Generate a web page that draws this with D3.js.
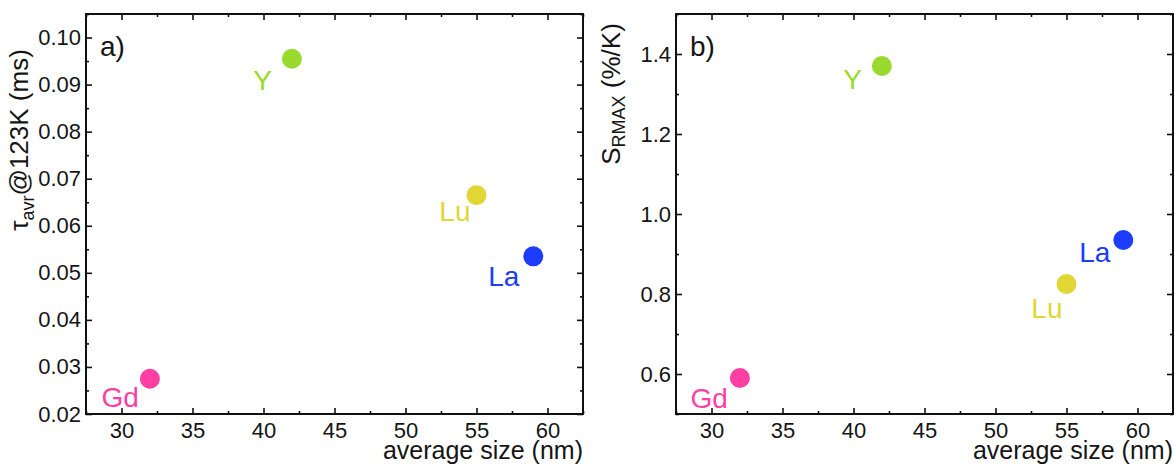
<!DOCTYPE html>
<html lang="en">
<head>
  <meta charset="utf-8">
  <title>Average size vs. lifetime and sensitivity</title>
  <script src="https://cdn.jsdelivr.net/npm/d3@7"></script>
  <style>
    body { margin: 0; background: #fff; }
    svg text { font-family: "Liberation Sans", Arial, sans-serif; fill: #151515; }
  </style>
</head>
<body>
  <div class="chart"></div>
  <script>
    // values
    var ions = ["Gd", "Y", "Lu", "La"];
    var sizes = [32, 42, 55, 59];
    var tauAvr = [0.0275, 0.0955, 0.0665, 0.0535];
    var sRmax = [0.59, 1.37, 0.825, 0.935];
    var ionColors = ["#ff3fa4", "#9ada2e", "#e2d634", "#1c3cff"];

    var xTicks = [30, 35, 40, 45, 50, 55, 60];
    var tauTicks = [0.02, 0.03, 0.04, 0.05, 0.06, 0.07, 0.08, 0.09, 0.10];
    var sTicks = [0.6, 0.8, 1.0, 1.2, 1.4];

    var W = 1174, H = 465;
    var svg = d3.select(".chart").append("svg")
      .attr("width", W).attr("height", H);

    var panels = [
      {
        left: 86, tag: "a)", y: tauAvr, yDomain: [0.02, 0.105], yTicks: tauTicks,
        yMinorStep: 0.005, fmt: d3.format(".2f"),
        // label offsets (text end, baseline) from each dot
        lab: [[-11, 28], [-20, 31], [-6, 26], [-14, 30]]
      },
      {
        left: 676, tag: "b)", y: sRmax, yDomain: [0.5, 1.5], yTicks: sTicks,
        yMinorStep: 0.1, fmt: d3.format(".1f"),
        lab: [[-12, 30], [-20, 23], [-4, 34], [-13, 22]]
      }
    ];

    var marginTop = 14, pw = 497, ph = 400;

    panels.forEach(function(p, pi) {
      var g = svg.append("g").attr("transform", "translate(" + p.left + "," + marginTop + ")");

      var x = d3.scaleLinear().domain([27.5, 62.5]).range([0, pw]);
      var y = d3.scaleLinear().domain(p.yDomain).range([ph, 0]);

      var xMinor = d3.range(27.5, 62.6, 2.5).filter(function(v) { return v % 5 != 0; });
      var yMinor = d3.range(p.yDomain[0], p.yDomain[1] + 1e-9, p.yMinorStep)
        .map(function(v) { return +v.toFixed(4); })
        .filter(function(v) {
          return !p.yTicks.some(function(t) { return Math.abs(t - v) < 1e-6; });
        });

      function ticks(axis, vals, size, fmt) {
        return axis.tickValues(vals).tickSize(-size).tickFormat(fmt || "");
      }

      // major + minor ticks on all four sides, pointing inward
      var sides = [
        [d3.axisBottom(x), "translate(0," + ph + ")", xTicks, xMinor, d3.format("d"), 8],
        [d3.axisTop(x), "translate(0,0)", xTicks, xMinor, null, 6],
        [d3.axisLeft(y), "translate(0,0)", p.yTicks, yMinor, p.fmt, 5],
        [d3.axisRight(y), "translate(" + pw + ",0)", p.yTicks, yMinor, null, 6]
      ];
      sides.forEach(function(s) {
        var major = g.append("g").attr("transform", s[1])
          .call(ticks(s[0], s[2], 6, s[4]).tickPadding(s[5]));
        var minor = g.append("g").attr("transform", s[1])
          .call(ticks(s[0].tickPadding(0), s[3], 3, null));
        major.select(".domain").remove();
        minor.select(".domain").remove();
        major.selectAll("line").attr("stroke", "#111").attr("stroke-width", 1.6);
        minor.selectAll("line").attr("stroke", "#111").attr("stroke-width", 1.6);
        major.selectAll("text").style("font-size", "22px").attr("fill", "#151515");
      });

      g.append("rect")
        .attr("width", pw).attr("height", ph)
        .attr("fill", "none").attr("stroke", "#111").attr("stroke-width", 2);

      // panel tag
      g.append("text").attr("x", 14).attr("y", 42)
        .style("font-size", "28px").text(p.tag);

      // points
      g.selectAll("circle.pt").data(ions).enter().append("circle")
        .attr("class", "pt")
        .attr("cx", function(d, i) { return x(sizes[i]); })
        .attr("cy", function(d, i) { return y(p.y[i]); })
        .attr("r", 10)
        .attr("fill", function(d, i) { return ionColors[i]; });

      g.selectAll("text.ion").data(ions).enter().append("text")
        .attr("class", "ion")
        .attr("x", function(d, i) { return x(sizes[i]) + p.lab[i][0]; })
        .attr("y", function(d, i) { return y(p.y[i]) + p.lab[i][1]; })
        .attr("text-anchor", "end")
        .style("font-size", "28px")
        .style("fill", function(d, i) { return ionColors[i]; })
        .text(function(d) { return d; });

      // x title, right aligned to frame
      g.append("text").attr("x", pw).attr("y", ph + 45)
        .attr("text-anchor", "end").style("font-size", "25px")
        .text("average size (nm)");

      // y title
      var yt = g.append("text")
        .attr("transform", "translate(" + (pi == 0 ? -58 : -56) + "," + (pi == 0 ? 126 : 80) + ") rotate(-90)")
        .attr("text-anchor", "middle").style("font-size", "26px");
      if (pi == 0) {
        yt.append("tspan").text("\u03c4");
        yt.append("tspan").attr("dy", 6).style("font-size", "18px").text("avr");
        yt.append("tspan").attr("dy", -6).text("@123K (ms)");
      } else {
        yt.append("tspan").text("S");
        yt.append("tspan").attr("dy", 5).style("font-size", "18px").text("RMAX");
        yt.append("tspan").attr("dy", -5).text(" (%/K)");
      }
    });
  </script>
</body>
</html>
